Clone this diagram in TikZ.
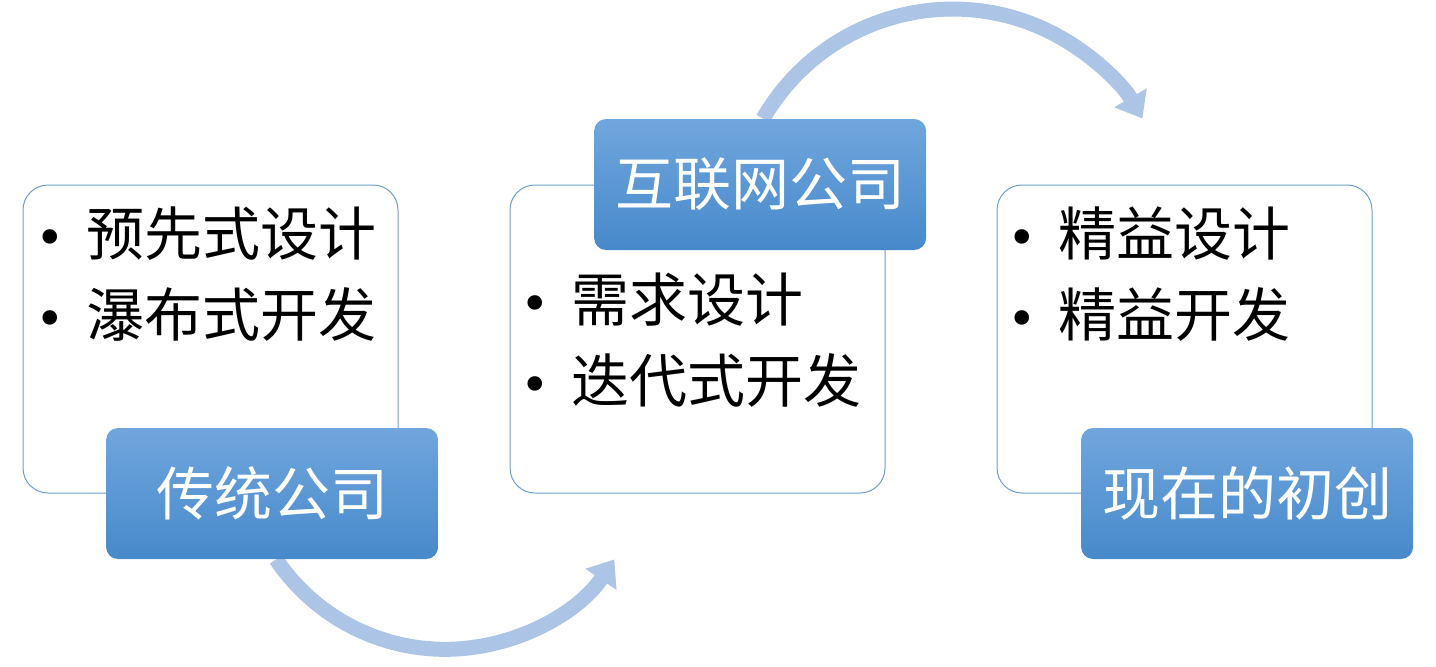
\documentclass[tikz,border=0pt]{standalone}
\usepackage{fontspec}
\setmainfont{Noto Sans CJK SC}
\newfontfamily\bulfont{DejaVu Sans}
\usepackage{tikz}
\usetikzlibrary{positioning,arrows.meta,backgrounds}
\definecolor{panelline}{HTML}{6D9ECF}
\definecolor{tagtop}{HTML}{70A6DD}
\definecolor{tagbottom}{HTML}{4789CB}
\definecolor{turnblue}{HTML}{ACC4E6}
\tikzset{
  panel/.style    = {shape=rectangle, rounded corners=12.5pt,
                     draw=panelline, line width=0.5pt, fill=white,
                     minimum width=187.5pt, minimum height=154pt, inner sep=0pt},
  itemlist/.style = {align=left, inner sep=0pt,
                     font=\fontsize{29pt}{40.5pt}\selectfont},
  tag/.style      = {shape=rectangle, rounded corners=6pt,
                     top color=tagtop, bottom color=tagbottom, text=white,
                     minimum width=166pt, minimum height=65.5pt, inner sep=0pt,
                     font=\fontsize{29pt}{35pt}\selectfont},
  turn/.style     = {draw=turnblue, line width=7.5pt,
                     -{Triangle[width=18pt,length=12pt]}}
}
\newcommand{\bul}{\makebox[25.5pt][l]{\bulfont\fontsize{25pt}{25pt}\selectfont •}}

\begin{document}
\begin{tikzpicture}[x=0.5pt, y=0.5pt]
  \useasboundingbox (0,0) rectangle (1436,666);

  \node [panel] (box1) at (210.5,327) {};
  \node [panel, right=55.5pt of box1] (box2) {};
  \node [panel, right=55.5pt of box2] (box3) {};

  \node [itemlist, below right=11pt and 6.5pt of box1.north west] (list1)
        {\bul 预先式设计\\\bul 瀑布式开发};
  \node [itemlist, below right=44pt and 5.5pt of box2.north west] (list2)
        {\bul 需求设计\\\bul 迭代式开发};
  \node [itemlist, below right=11pt and 5.5pt of box3.north west] (list3)
        {\bul 精益设计\\\bul 精益开发};

  \node [tag, anchor=east, xshift=20pt] (tag1) at (box1.south east) {传统公司};
  \node [tag, anchor=east, xshift=20.5pt] (tag2) at (box2.north east) {互联网公司};
  \node [tag, anchor=east, xshift=20.5pt] (tag3) at (box3.south east) {现在的初创};

  % curved arrows between the stages
  \begin{scope}[on background layer]
    \coordinate (turn1) at ([xshift=2pt]tag1.south);
    \coordinate (turn2) at ([xshift=1.5pt]tag2.north);
    \draw [turn] (turn1) arc [start angle=214, end angle=326, radius=102pt];
    \draw [turn] (turn2) arc [start angle=150, end angle=30, radius=109.5pt];
  \end{scope}
\end{tikzpicture}
\end{document}
